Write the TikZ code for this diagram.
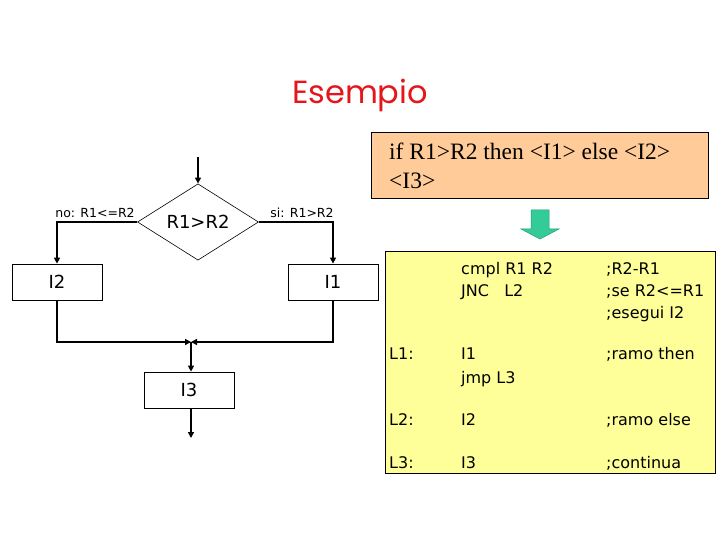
\documentclass[tikz,border=0pt]{standalone}
\usepackage{fontspec}
\setmainfont{Liberation Serif}
\newfontfamily\tah{DejaVu Sans}
\newfontfamily\comic{Poppins}
\usetikzlibrary{shapes.geometric,arrows.meta}
\definecolor{titlered}{RGB}{228,22,28}
\definecolor{orangebox}{RGB}{255,204,153}
\definecolor{yellowbox}{RGB}{255,255,153}
\definecolor{arrowgreen}{RGB}{51,204,153}
\tikzset{
  conn/.style={line width=1.6pt,-{Triangle[length=6pt,width=6pt]}},
  plain/.style={line width=1.6pt},
  fbox/.style={draw=black,line width=0.8pt,minimum width=90pt,minimum height=36pt,inner sep=0pt,font=\tah\fontsize{18}{21}\selectfont},
  lbl/.style={inner sep=0pt,font=\tah\fontsize{12.5}{15}\selectfont},
  code/.style={inner sep=0pt,anchor=base west,font=\tah\fontsize{16}{19}\selectfont},
}
\begin{document}
\begin{tikzpicture}[x=1pt,y=-1pt]
\useasboundingbox (0,0) rectangle (720,540);
\fill[white] (0,0) rectangle (720,540);
% title
\node[inner sep=0pt,anchor=base,text=titlered,font=\comic\fontsize{32}{38}\selectfont] (title) at (360,104) {Esempio};
% orange box
\node[draw=black,line width=0.8pt,fill=orangebox,minimum width=337pt,minimum height=66pt,anchor=north west,inner sep=0pt] (ob) at (371,132) {};
\node[inner sep=0pt,anchor=base west,font=\fontsize{23.5}{29}\selectfont] (ob1) at (389,160) {if R1>R2 then <I1> else <I2>};
\node[inner sep=0pt,anchor=base west,font=\fontsize{23.5}{29}\selectfont] (ob2) at (389,189) {<I3>};
% green arrow
\filldraw[fill=arrowgreen,draw=arrowgreen!75!black,line width=0.5pt]
  (531,210) -- (549,210) -- (549,229) -- (559,229) -- (540,239) -- (521,229) -- (531,229) -- cycle;
% yellow box
\node[draw=black,line width=0.8pt,fill=yellowbox,minimum width=330pt,minimum height=222pt,anchor=north west,inner sep=0pt] (yb) at (385,251) {};
\node[code] (c1) at (461,274) {cmpl R1 R2};
\node[code] (c2) at (461,296) {JNC\ \ \ L2};
\node[code] (k1) at (606,274) {;R2-R1};
\node[code] (k2) at (606,296) {;se R2<=R1};
\node[code] (k3) at (606,318) {;esegui I2};
\node[code] (l1) at (389,359) {L1:};
\node[code] (c3) at (461,359) {I1};
\node[code] (c4) at (461,383) {jmp L3};
\node[code] (k4) at (606,359) {;ramo then};
\node[code] (l2) at (389,425) {L2:};
\node[code] (c5) at (461,425) {I2};
\node[code] (k5) at (606,425) {;ramo else};
\node[code] (l3) at (389,468) {L3:};
\node[code] (c6) at (461,468) {I3};
\node[code] (k6) at (606,468) {;continua};
% flowchart
\coordinate (s) at (198,157);
\node[draw=black,line width=0.6pt,diamond,minimum width=121pt,minimum height=70pt,inner sep=0pt,font=\tah\fontsize{18}{21}\selectfont] (d) at (198,222) {R1>R2};
\node[fbox] (i2) at (57,282) {I2};
\node[fbox] (i1) at (333,282) {I1};
\node[fbox] (i3) at (189,390) {I3};
\coordinate (m) at (191,342);
\coordinate (e) at (191,438);
\node[lbl,anchor=base] (nolbl) at (95,218) {no: R1<=R2};
\node[lbl,anchor=base] (silbl) at (302,218) {si: R1>R2};
\draw[conn] (s) -- (d.north);
\draw[conn] (d.west) -| (i2.north);
\draw[conn] (d.east) -| (i1.north);
\draw[conn] (i2.south) |- (m);
\draw[conn] (i1.south) |- (m);
\draw[conn] (m) -- (m |- i3.north);
\draw[conn] (i3.south -| e) -- (e);
\end{tikzpicture}
\end{document}
